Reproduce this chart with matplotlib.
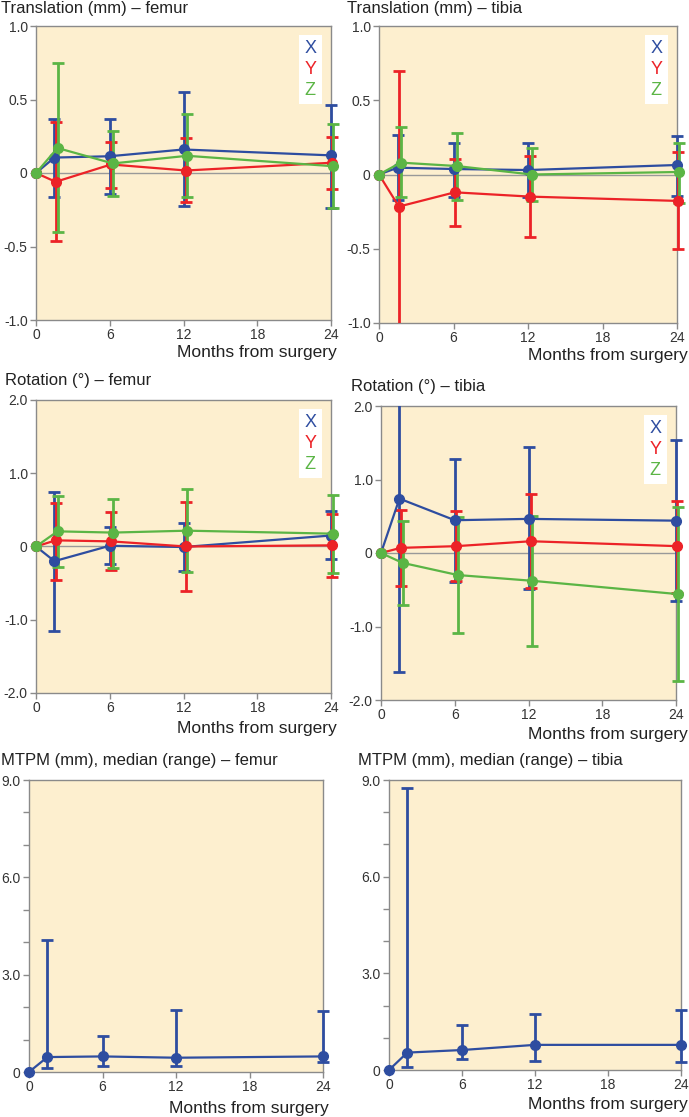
"""
Migration (RSA) of femoral and tibial components over time:
translation, rotation and MTPM, with error bars.
"""

import matplotlib
matplotlib.use('Agg')
import matplotlib.pyplot as plt
from matplotlib.lines import Line2D
from matplotlib.transforms import Bbox, TransformedBbox

plt.rcParams['font.family'] = ['Liberation Sans', 'DejaVu Sans']

# ---------------------------------------------------------------------------
# Data
# ---------------------------------------------------------------------------
months_x = [0, 1.5, 6, 12, 24]
months_y = [0, 1.6, 6.1, 12.2, 24.1]
months_z = [0, 1.75, 6.25, 12.3, 24.2]
months_mtpm = [0, 1.5, 6, 12, 24]

# Translation (mm) - femur
tf_x = [0, 0.105, 0.114, 0.16, 0.12]
tf_x_lo = [0, -0.166, -0.146, -0.223, -0.237]
tf_x_hi = [0, 0.37, 0.37, 0.55, 0.46]
tf_y = [0, -0.06, 0.058, 0.017, 0.07]
tf_y_lo = [0, -0.46, -0.10, -0.20, -0.11]
tf_y_hi = [0, 0.35, 0.21, 0.24, 0.245]
tf_z = [0, 0.17, 0.065, 0.117, 0.046]
tf_z_lo = [0, -0.40, -0.157, -0.164, -0.24]
tf_z_hi = [0, 0.745, 0.287, 0.40, 0.33]

# Translation (mm) - tibia
tt_x = [0, 0.046, 0.037, 0.03, 0.064]
tt_x_lo = [0, -0.17, -0.15, -0.15, -0.142]
tt_x_hi = [0, 0.265, 0.214, 0.214, 0.26]
tt_y = [0, -0.216, -0.12, -0.149, -0.178]
tt_y_lo = [0, -1.1, -0.344, -0.42, -0.503]
tt_y_hi = [0, 0.70, 0.104, 0.122, 0.153]
tt_z = [0, 0.08, 0.057, 0.0, 0.017]
tt_z_lo = [0, -0.153, -0.171, -0.176, -0.19]
tt_z_hi = [0, 0.317, 0.277, 0.18, 0.214]

# Rotation (deg) - femur
rf_x = [0, -0.20, 0.01, -0.007, 0.15]
rf_x_lo = [0, -1.155, -0.24, -0.33, -0.17]
rf_x_hi = [0, 0.74, 0.26, 0.32, 0.48]
rf_y = [0, 0.084, 0.07, 0.0, 0.016]
rf_y_lo = [0, -0.46, -0.325, -0.61, -0.42]
rf_y_hi = [0, 0.60, 0.47, 0.61, 0.45]
rf_z = [0, 0.207, 0.19, 0.216, 0.175]
rf_z_lo = [0, -0.28, -0.29, -0.35, -0.36]
rf_z_hi = [0, 0.69, 0.647, 0.79, 0.70]

# Rotation (deg) - tibia
rt_x = [0, 0.74, 0.446, 0.464, 0.44]
rt_x_lo = [0, -1.615, -0.39, -0.49, -0.656]
rt_x_hi = [0, 2.2, 1.28, 1.438, 1.54]
rt_y = [0, 0.07, 0.093, 0.16, 0.093]
rt_y_lo = [0, -0.446, -0.38, -0.48, -0.55]
rt_y_hi = [0, 0.59, 0.57, 0.80, 0.71]
rt_z = [0, -0.134, -0.30, -0.378, -0.56]
rt_z_lo = [0, -0.71, -1.094, -1.27, -1.74]
rt_z_hi = [0, 0.44, 0.49, 0.505, 0.62]

# MTPM (mm), median (range)
mf = [0, 0.46, 0.48, 0.44, 0.48]
mf_lo = [0, 0.12, 0.195, 0.17, 0.30]
mf_hi = [0, 4.08, 1.12, 1.91, 1.89]
mt = [0, 0.54, 0.62, 0.78, 0.78]
mt_lo = [0, 0.10, 0.35, 0.28, 0.26]
mt_hi = [0, 8.74, 1.40, 1.73, 1.86]

x_ticks = [0, 6, 12, 18, 24]
trans_ticks = [1.0, 0.5, 0, -0.5, -1.0]
trans_labels = ['1.0', '0.5', '0', '-0.5', '-1.0']
rot_ticks = [2.0, 1.0, 0, -1.0, -2.0]
rot_labels = ['2.0', '1.0', '0', '-1.0', '-2.0']
mtpm_ticks = [0, 3, 6, 9]
mtpm_labels = ['0', '3.0', '6.0', '9.0']

BLUE = '#2E4DA0'
RED = '#EC2227'
GREEN = '#5BB545'
BG = '#FDEFCF'
SPINE = '#8a8a8a'

W, H = 689, 1117
fig = plt.figure(figsize=(W / 100, H / 100), dpi=100)


def px_axes(l, r, t, b):
    return fig.add_axes([l / W, 1 - b / H, (r - l) / W, (b - t) / H])


def style(ax, ylim, yticks, ylabels):
    ax.set_facecolor(BG)
    ax.set_xlim(0, 24)
    ax.set_ylim(*ylim)
    ax.set_xticks(x_ticks)
    ax.set_xticklabels([str(t) for t in x_ticks])
    ax.set_yticks(yticks)
    ax.set_yticklabels(ylabels)
    ax.tick_params(direction='out', length=4, width=1, color=SPINE,
                   labelsize=10, labelcolor='#333333', pad=2)
    for s in ax.spines.values():
        s.set_color(SPINE)
        s.set_linewidth(1)


def series(ax, x, y, lo, hi, color):
    yerr = [[y[i] - lo[i] for i in range(1, len(y))],
            [hi[i] - y[i] for i in range(1, len(y))]]
    eb = ax.errorbar(x[1:], y[1:], yerr=yerr, fmt='none', ecolor=color,
                     elinewidth=2, capsize=4, capthick=2, zorder=3)
    # clip only vertically, so bars at 24 months show fully past the spine
    clip = TransformedBbox(Bbox([[-0.1, 0], [1.1, 1]]), ax.transAxes)
    for art in list(eb[1]) + list(eb[2]):
        art.set_clip_box(clip)
    ax.plot(x, y, '-o', color=color, lw=1.6, ms=7, clip_on=False, zorder=4)


def xyz_legend(ax):
    handles = [Line2D([], [], linestyle='none') for _ in range(3)]
    leg = ax.legend(handles, ['X', 'Y', 'Z'], loc='upper right',
                    handlelength=0, handletextpad=0, fontsize=13,
                    labelcolor=[BLUE, RED, GREEN], frameon=True,
                    fancybox=False, borderpad=0.3, labelspacing=0.2,
                    borderaxespad=0.5)
    leg.get_frame().set_facecolor('white')
    leg.get_frame().set_edgecolor('none')
    leg.get_frame().set_alpha(1)


def months_label(x_right, y_center):
    fig.text(x_right / W, 1 - y_center / H, 'Months from surgery',
             ha='right', va='center', fontsize=12.5, color='#222222')


def title(x_left, y_center, text):
    fig.text(x_left / W, 1 - y_center / H, text, ha='left', va='center',
             fontsize=12, color='#222222')


# --- Translation femur ------------------------------------------------------
ax = px_axes(36, 331, 26, 320)
style(ax, (-1.0, 1.0), trans_ticks, trans_labels)
ax.axhline(0, color='#999999', lw=1, zorder=1)
series(ax, months_x, tf_x, tf_x_lo, tf_x_hi, BLUE)
series(ax, months_y, tf_y, tf_y_lo, tf_y_hi, RED)
series(ax, months_z, tf_z, tf_z_lo, tf_z_hi, GREEN)
xyz_legend(ax)
title(1, 9, 'Translation (mm) – femur')
months_label(337, 353)

# --- Translation tibia ------------------------------------------------------
ax = px_axes(379, 677, 26, 323)
style(ax, (-1.0, 1.0), trans_ticks, trans_labels)
ax.axhline(0, color='#999999', lw=1, zorder=1)
series(ax, months_x, tt_x, tt_x_lo, tt_x_hi, BLUE)
series(ax, months_y, tt_y, tt_y_lo, tt_y_hi, RED)
series(ax, months_z, tt_z, tt_z_lo, tt_z_hi, GREEN)
xyz_legend(ax)
title(347, 9, 'Translation (mm) – tibia')
months_label(688, 355)

# --- Rotation femur ---------------------------------------------------------
ax = px_axes(36, 331, 400, 693)
style(ax, (-2.0, 2.0), rot_ticks, rot_labels)
ax.axhline(0, color='#999999', lw=1, zorder=1)
series(ax, months_x, rf_x, rf_x_lo, rf_x_hi, BLUE)
series(ax, months_y, rf_y, rf_y_lo, rf_y_hi, RED)
series(ax, months_z, rf_z, rf_z_lo, rf_z_hi, GREEN)
xyz_legend(ax)
title(5, 381, 'Rotation (°) – femur')
months_label(337, 728)

# --- Rotation tibia ---------------------------------------------------------
ax = px_axes(381, 676, 406, 700)
style(ax, (-2.0, 2.0), rot_ticks, rot_labels)
ax.axhline(0, color='#999999', lw=1, zorder=1)
series(ax, months_x, rt_x, rt_x_lo, rt_x_hi, BLUE)
series(ax, months_y, rt_y, rt_y_lo, rt_y_hi, RED)
series(ax, months_z, rt_z, rt_z_lo, rt_z_hi, GREEN)
xyz_legend(ax)
title(351, 386, 'Rotation (°) – tibia')
months_label(688, 734)

# --- MTPM femur -------------------------------------------------------------
ax = px_axes(29, 323, 780, 1072)
style(ax, (0, 9.0), mtpm_ticks, mtpm_labels)
ax.set_yticks(range(0, 10), minor=True)
ax.tick_params(which='minor', direction='out', length=4, width=1, color=SPINE)
series(ax, months_mtpm, mf, mf_lo, mf_hi, BLUE)
title(1, 760, 'MTPM (mm), median (range) – femur')
months_label(329, 1108)

# --- MTPM tibia -------------------------------------------------------------
ax = px_axes(389, 681, 780, 1070)
style(ax, (0, 9.0), mtpm_ticks, mtpm_labels)
ax.set_yticks(range(0, 10), minor=True)
ax.tick_params(which='minor', direction='out', length=4, width=1, color=SPINE)
series(ax, months_mtpm, mt, mt_lo, mt_hi, BLUE)
title(358, 760, 'MTPM (mm), median (range) – tibia')
months_label(688, 1104)

fig.savefig('out.png', dpi=100)
